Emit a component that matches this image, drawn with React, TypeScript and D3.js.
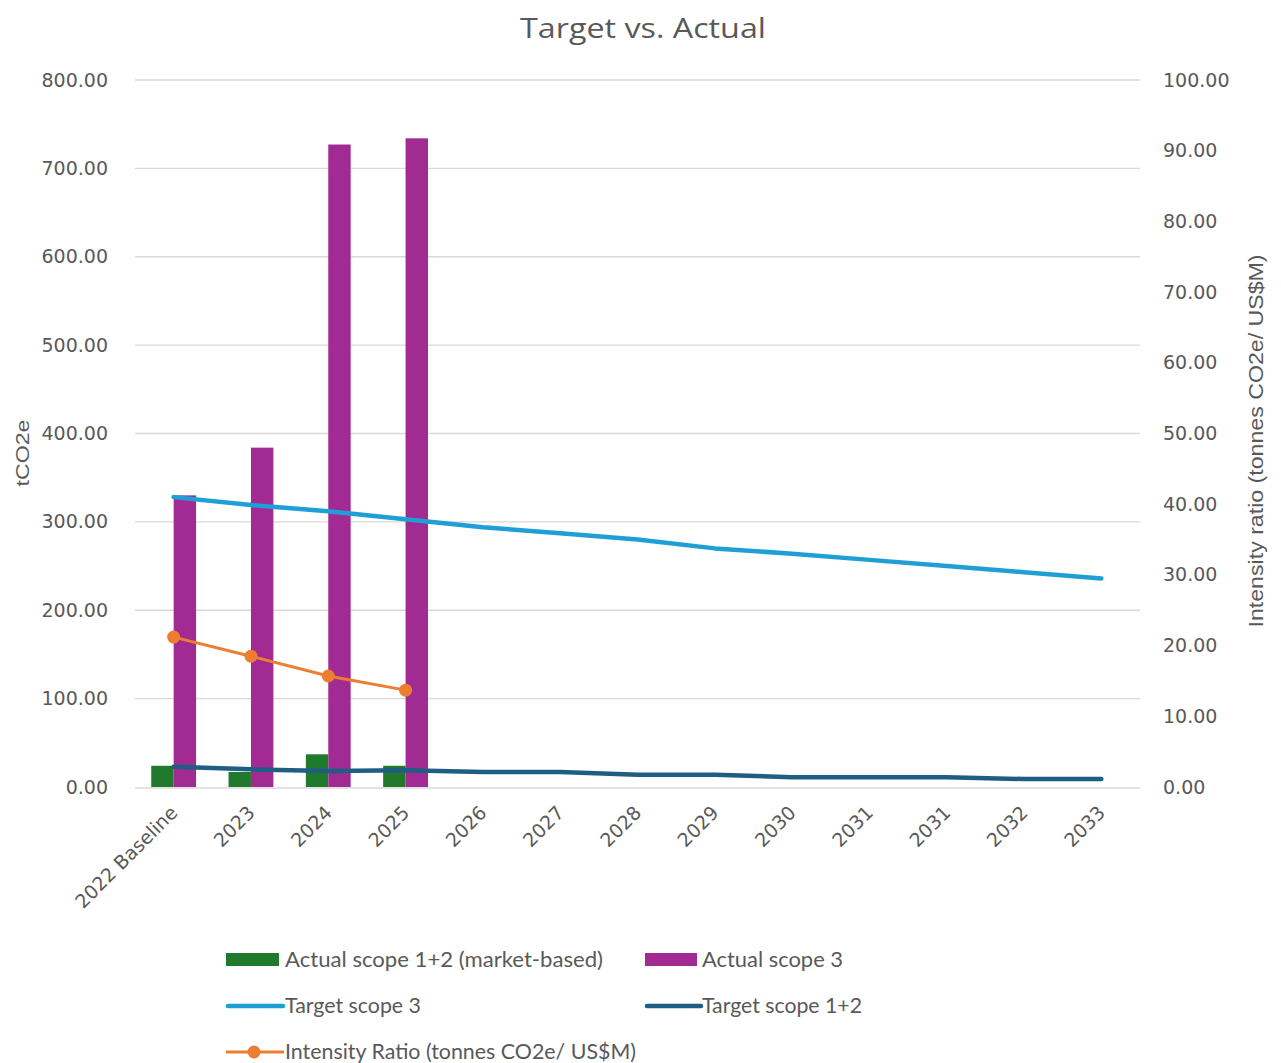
import React, { useEffect, useRef } from 'react'
import * as d3 from 'd3'

const categories = ['2022 Baseline', '2023', '2024', '2025', '2026', '2027', '2028', '2029', '2030', '2031', '2031', '2032', '2033']
const actualScope12 = [24, 17, 37, 24]
const actualScope3 = [330, 384, 727, 734]
const targetScope3 = [328, 319, 312, 303, 294, 287, 280, 270, 264, 257, 250, 243, 236]
const targetScope12 = [23, 20, 18, 19, 17, 17, 14, 14, 11, 11, 11, 9, 9]
const intensityRatio = [21.2, 18.5, 15.7, 13.7]
const leftTicks = [0, 100, 200, 300, 400, 500, 600, 700, 800]
const rightTicks = [0, 10, 20, 30, 40, 50, 60, 70, 80, 90, 100]

const GREEN = '#217a2c'
const PURPLE = '#a12b92'
const LIGHT_BLUE = '#1f9fd6'
const DARK_BLUE = '#1d5e82'
const ORANGE = '#ed7d31'
const TEXT = '#595959'
const GRID = '#d9d9d9'

export default function App() {
  const ref = useRef<SVGSVGElement>(null)

  useEffect(() => {
    const svg = d3.select(ref.current)
    svg.selectAll('*').remove()

    const left = 135, right = 1140, top = 80, bottom = 787

    const x = d3.scaleBand<number>().domain(d3.range(categories.length)).range([left, right]).paddingInner(0.42).paddingOuter(0.21)
    const x1 = d3.scaleBand<string>().domain(['s12', 's3']).range([0, x.bandwidth()])
    const cx = (i: number) => (x(i) as number) + x.bandwidth() / 2
    const y = d3.scaleLinear().domain([0, 800]).range([bottom, top])
    const y2 = d3.scaleLinear().domain([0, 100]).range([bottom, top])

    // title
    svg.append('text').attr('x', 643).attr('y', 38).attr('text-anchor', 'middle')
      .attr('font-family', 'Open Sans').attr('font-size', 28).attr('fill', TEXT)
      .attr('textLength', 246).attr('lengthAdjust', 'spacingAndGlyphs')
      .text('Target vs. Actual')

    // grid
    svg.append('g').selectAll('line').data(leftTicks.slice(1)).join('line')
      .attr('x1', left).attr('x2', right).attr('y1', d => y(d)).attr('y2', d => y(d))
      .attr('stroke', GRID).attr('stroke-width', 1.3)

    // left axis
    const yAxis = svg.append('g').attr('transform', `translate(${left - 24},0)`)
      .call(d3.axisLeft(y).tickValues(leftTicks).tickFormat(d3.format('.2f')).tickSize(0))
    yAxis.select('.domain').remove()
    yAxis.selectAll('text').attr('font-family', 'DejaVu Sans').attr('font-size', 19).attr('fill', TEXT)

    // right axis
    const yAxis2 = svg.append('g').attr('transform', `translate(${right + 20},0)`)
      .call(d3.axisRight(y2).tickValues(rightTicks).tickFormat(d3.format('.2f')).tickSize(0))
    yAxis2.select('.domain').remove()
    yAxis2.selectAll('text').attr('font-family', 'DejaVu Sans').attr('font-size', 19).attr('fill', TEXT)

    // axis titles
    svg.append('text').attr('transform', 'translate(29,453) rotate(-90)').attr('text-anchor', 'middle')
      .attr('font-family', 'Liberation Sans').attr('font-size', 19).attr('fill', TEXT)
      .attr('textLength', 67).attr('lengthAdjust', 'spacingAndGlyphs').text('tCO2e')
    svg.append('text').attr('transform', 'translate(1263,441) rotate(-90)').attr('text-anchor', 'middle')
      .attr('font-family', 'Liberation Sans').attr('font-size', 20).attr('fill', TEXT)
      .attr('textLength', 373).attr('lengthAdjust', 'spacingAndGlyphs').text('Intensity ratio (tonnes CO2e/ US$M)')

    // bars
    const bars = svg.append('g')
    bars.selectAll('rect.s12').data(actualScope12).join('rect').attr('class', 's12')
      .attr('x', (d, i) => (x(i) as number) + (x1('s12') as number)).attr('width', x1.bandwidth())
      .attr('y', d => y(d)).attr('height', d => y(0) - y(d)).attr('fill', GREEN)
    bars.selectAll('rect.s3').data(actualScope3).join('rect').attr('class', 's3')
      .attr('x', (d, i) => (x(i) as number) + (x1('s3') as number)).attr('width', x1.bandwidth())
      .attr('y', d => y(d)).attr('height', d => y(0) - y(d)).attr('fill', PURPLE)

    // x axis line
    svg.append('line').attr('x1', left).attr('x2', right).attr('y1', bottom + 1).attr('y2', bottom + 1)
      .attr('stroke', GRID).attr('stroke-width', 1.3)

    // x labels
    svg.append('g').selectAll('text').data(categories).join('text')
      .attr('transform', (d, i) => `translate(${cx(i) + 5},${bottom + 27}) rotate(-45)`)
      .attr('text-anchor', 'end').attr('font-family', 'DejaVu Sans').attr('font-size', 19).attr('fill', TEXT)
      .text(d => d)

    // lines
    const line = d3.line<number>().x((d, i) => cx(i)).y(d => y(d))
    svg.append('path').datum(targetScope3).attr('d', line).attr('fill', 'none')
      .attr('stroke', LIGHT_BLUE).attr('stroke-width', 4.5).attr('stroke-linejoin', 'round').attr('stroke-linecap', 'round')
    svg.append('path').datum(targetScope12).attr('d', line).attr('fill', 'none')
      .attr('stroke', DARK_BLUE).attr('stroke-width', 4.5).attr('stroke-linejoin', 'round').attr('stroke-linecap', 'round')

    const line2 = d3.line<number>().x((d, i) => cx(i)).y(d => y2(d))
    svg.append('path').datum(intensityRatio).attr('d', line2).attr('fill', 'none')
      .attr('stroke', ORANGE).attr('stroke-width', 3)
    svg.append('g').selectAll('circle').data(intensityRatio).join('circle')
      .attr('cx', (d, i) => cx(i)).attr('cy', d => y2(d)).attr('r', 6.5).attr('fill', ORANGE)

    // legend
    const legend = svg.append('g')
    const legendText = (tx: number, ty: number, label: string, len: number) =>
      legend.append('text').attr('x', tx).attr('y', ty).attr('font-family', 'Lato').attr('font-size', 21)
        .attr('fill', TEXT).attr('textLength', len).attr('lengthAdjust', 'spacingAndGlyphs').text(label)

    legend.append('rect').attr('x', 226).attr('y', 953).attr('width', 53).attr('height', 13).attr('fill', GREEN)
    legendText(285, 967, 'Actual scope 1+2 (market-based)', 318)
    legend.append('rect').attr('x', 645).attr('y', 953).attr('width', 52).attr('height', 13).attr('fill', PURPLE)
    legendText(702, 967, 'Actual scope 3', 141)

    legend.append('line').attr('x1', 228).attr('x2', 283).attr('y1', 1006).attr('y2', 1006)
      .attr('stroke', LIGHT_BLUE).attr('stroke-width', 4.5).attr('stroke-linecap', 'round')
    legendText(285, 1013, 'Target scope 3', 136)
    legend.append('line').attr('x1', 647).attr('x2', 701).attr('y1', 1006).attr('y2', 1006)
      .attr('stroke', DARK_BLUE).attr('stroke-width', 4.5).attr('stroke-linecap', 'round')
    legendText(702, 1013, 'Target scope 1+2', 160)

    legend.append('line').attr('x1', 226).attr('x2', 284).attr('y1', 1052).attr('y2', 1052)
      .attr('stroke', ORANGE).attr('stroke-width', 3)
    legend.append('circle').attr('cx', 254).attr('cy', 1052).attr('r', 6.5).attr('fill', ORANGE)
    legendText(285, 1059, 'Intensity Ratio (tonnes CO2e/ US$M)', 351)
  }, [])

  return (
    <svg ref={ref} width={1281} height={1063}
      style={{ position: 'absolute', left: 0, top: 0, background: '#fff' }} />
  )
}
